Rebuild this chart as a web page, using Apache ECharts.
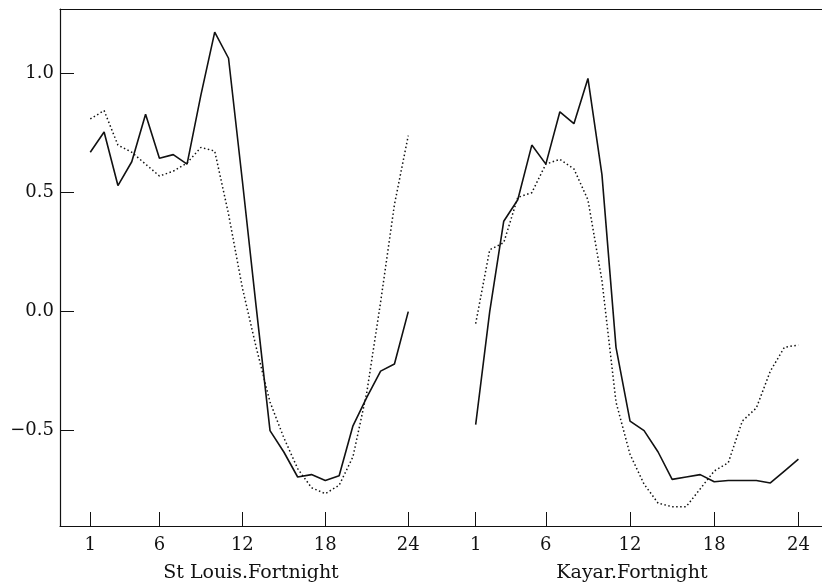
<!DOCTYPE html>
<html>
<head>
<meta charset="utf-8">
<script src="https://cdn.jsdelivr.net/npm/echarts@6/dist/echarts.min.js"></script>
<style>
html,body{margin:0;padding:0;background:#fff;}
#chart{width:822px;height:588px;}
</style>
</head>
<body>
<div id="chart"></div>
<script>
const fortnights = [1,2,3,4,5,6,7,8,9,10,11,12,13,14,15,16,17,18,19,20,21,22,23,24];
const xTickValues = [1, 6, 12, 18, 24];
const yTickValues = [-0.5, 0, 0.5, 1.0];
const panelNames = ['St Louis.Fortnight', 'Kayar.Fortnight'];

const stLouisSolid = [0.67, 0.755, 0.53, 0.63, 0.83, 0.645, 0.66, 0.62, 0.91, 1.175, 1.065, 0.55, 0.02, -0.50, -0.59, -0.695, -0.685, -0.71, -0.69, -0.48, -0.36, -0.25, -0.22, 0.00];
const stLouisDotted = [0.81, 0.845, 0.70, 0.67, 0.62, 0.57, 0.59, 0.625, 0.69, 0.675, 0.41, 0.10, -0.15, -0.38, -0.53, -0.66, -0.74, -0.765, -0.73, -0.61, -0.34, 0.04, 0.45, 0.74];
const kayarSolid = [-0.475, 0.0, 0.38, 0.47, 0.70, 0.62, 0.84, 0.79, 0.98, 0.575, -0.15, -0.46, -0.50, -0.59, -0.705, -0.695, -0.685, -0.715, -0.71, -0.71, -0.71, -0.72, -0.67, -0.62];
const kayarDotted = [-0.05, 0.26, 0.29, 0.48, 0.50, 0.62, 0.64, 0.60, 0.47, 0.13, -0.38, -0.60, -0.725, -0.805, -0.82, -0.82, -0.745, -0.67, -0.635, -0.46, -0.405, -0.25, -0.15, -0.14];

const FONT = 'DejaVu Serif';
const INK = '#111';

function pairs(vals){ return fortnights.map((f,i)=>[f, vals[i]]); }

const chart = echarts.init(document.getElementById('chart'), null, {renderer:'canvas'});

function bottomX(gridIndex, min, max, name){
  return {
    type:'value', gridIndex, position:'bottom', min, max,
    name, nameLocation:'middle', nameGap:38,
    nameTextStyle:{fontFamily:FONT, fontSize:19, color:INK},
    axisLine:{show:true, onZero:false, lineStyle:{color:INK, width:1.2}},
    axisTick:{show:true, inside:true, length:14, customValues:xTickValues, lineStyle:{color:INK, width:1}},
    axisLabel:{show:true, margin:10, customValues:xTickValues, fontFamily:FONT, fontSize:18, color:INK},
    splitLine:{show:false}
  };
}
function topX(gridIndex, min, max){
  return {
    type:'value', gridIndex, position:'top', min, max,
    axisLine:{show:true, onZero:false, lineStyle:{color:INK, width:1.2}},
    axisTick:{show:false}, axisLabel:{show:false}, splitLine:{show:false}
  };
}
const yMin = -0.901, yMax = 1.272;

const option = {
  animation:false,
  backgroundColor:'#fff',
  grid:[
    {left:60, top:9, width:382, height:519},
    {left:442, top:9, width:380, height:519}
  ],
  xAxis:[
    bottomX(0, -1.19, 26.44, panelNames[0]),
    bottomX(1, -1.4, 25.68, panelNames[1]),
    topX(0, -1.19, 26.44),
    topX(1, -1.4, 25.68)
  ],
  yAxis:[
    {
      type:'value', gridIndex:0, min:yMin, max:yMax,
      axisLine:{show:true, onZero:false, lineStyle:{color:INK, width:1.2}},
      axisTick:{show:true, inside:true, length:14, customValues:yTickValues, lineStyle:{color:INK, width:1}},
      axisLabel:{show:true, margin:6, customValues:yTickValues, fontFamily:FONT, fontSize:18, color:INK,
        formatter:v=>{ const s = Math.abs(v).toFixed(1); return v < 0 ? '\u2212'+s : s; }},
      splitLine:{show:false}
    },
    {
      type:'value', gridIndex:1, min:yMin, max:yMax,
      axisLine:{show:false}, axisTick:{show:false}, axisLabel:{show:false}, splitLine:{show:false}
    }
  ],
  series:[
    {type:'line', xAxisIndex:0, yAxisIndex:0, data:pairs(stLouisSolid), showSymbol:false, lineStyle:{color:INK, width:1.6, type:'solid'}},
    {type:'line', xAxisIndex:0, yAxisIndex:0, data:pairs(stLouisDotted), showSymbol:false, lineStyle:{color:INK, width:1.5, type:[1.5,2.5]}},
    {type:'line', xAxisIndex:1, yAxisIndex:1, data:pairs(kayarSolid), showSymbol:false, lineStyle:{color:INK, width:1.6, type:'solid'}},
    {type:'line', xAxisIndex:1, yAxisIndex:1, data:pairs(kayarDotted), showSymbol:false, lineStyle:{color:INK, width:1.5, type:[1.5,2.5]}}
  ]
};
chart.setOption(option);
</script>
</body>
</html>
